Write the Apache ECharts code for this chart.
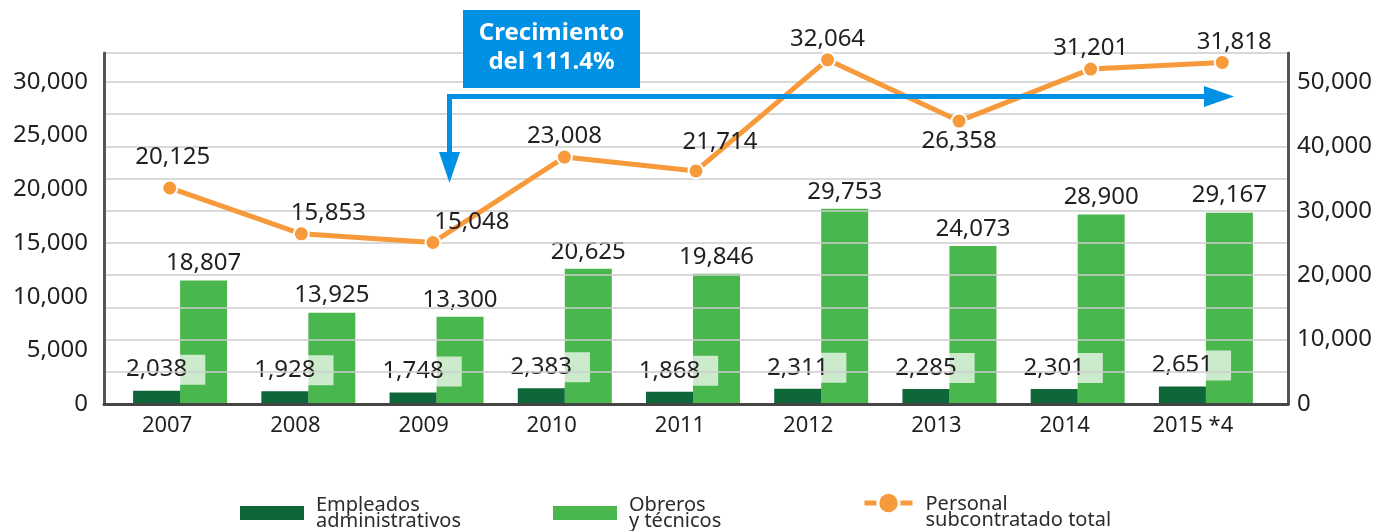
<!DOCTYPE html>
<html><head><meta charset="utf-8">
<script src="https://cdn.jsdelivr.net/npm/echarts@6/dist/echarts.min.js"></script>
<style>html,body{margin:0;padding:0;background:#fff}#c{width:1392px;height:531px}</style>
</head><body><div id="c"></div>
<script>
const categories = ['2007','2008','2009','2010','2011','2012','2013','2014','2015 *4'];
const adminStaff = [2038, 1928, 1748, 2383, 1868, 2311, 2285, 2301, 2651];
const workersTech = [18807, 13925, 13300, 20625, 19846, 29753, 24073, 28900, 29167];
const totalSubcontracted = [20125, 15853, 15048, 23008, 21714, 32064, 26358, 31201, 31818];
const leftTicks = [0, 5000, 10000, 15000, 20000, 25000, 30000];
const rightTicks = [0, 10000, 20000, 30000, 40000, 50000];
const seriesNames = ['Empleados administrativos', 'Obreros y técnicos', 'Personal subcontratado total'];
const annotationText = 'Crecimiento\ndel 111.4%';

const FONT = '"Noto Sans", sans-serif';
const TEXT = '#231f20';
const DARK = '#0e6639';
const LIGHT = '#49b64e';
const ORANGE = '#f79a3b';
const BLUE = '#0091e5';
const fmt = v => Number(v).toLocaleString('en-US');

// per-point label placement tweaks for the line labels
const lineLabelTweaks = {
  0: {offset: [3, -10]},
  1: {offset: [27, 0]},
  2: {offset: [39, 0]},
  4: {offset: [24, -8]},
  6: {position: 'bottom', distance: 0},
  8: {offset: [12, 0]}
};

const legendText = {fontSize: 20, lineHeight: 16, color: '#2b2b2b', fontFamily: FONT};
const legendFmt = n => n.replace(' ', '\n');
const legendFmtShift = n => '{sp| }\n' + n.split(' ').reduce((acc, w, i) => i === 0 ? '{t|' + w + '}\n{t|' : acc + (i > 1 ? ' ' : '') + w, '') + '}';

const chart = echarts.init(document.getElementById('c'), null, {renderer: 'canvas'});
chart.setOption({
  animation: false,
  textStyle: {fontFamily: FONT},
  grid: [
    {left: 104, right: 104, top: 53, bottom: 127, containLabel: false},
    {left: 116, right: 122, top: 53, bottom: 127, containLabel: false}
  ],
  xAxis: [
    {type: 'category', gridIndex: 0, data: categories, boundaryGap: true, z: 5,
     axisLine: {show: true, lineStyle: {color: '#454545', width: 3}},
     axisTick: {show: false}, axisLabel: {show: false}, splitLine: {show: false}},
    {type: 'category', gridIndex: 1, data: categories, boundaryGap: true,
     axisLine: {show: false}, axisTick: {show: false}, splitLine: {show: false},
     axisLabel: {fontSize: 22, color: TEXT, fontFamily: FONT, margin: 11, padding: [0, 26, 0, 0]}}
  ],
  yAxis: [
    {type: 'value', gridIndex: 0, position: 'left', min: 0, max: 32700, interval: 5000, z: 4,
     axisLine: {show: true, lineStyle: {color: '#555', width: 3}},
     axisTick: {show: false}, splitLine: {show: false},
     axisLabel: {showMaxLabel: false, fontSize: 24, color: TEXT, fontFamily: FONT, margin: 16,
       formatter: v => leftTicks.includes(v) ? fmt(v) : ''}},
    {type: 'value', gridIndex: 0, position: 'right', min: 0, max: 54500, interval: 5000, z: 4,
     axisLine: {show: true, lineStyle: {color: '#555', width: 3}},
     axisTick: {show: false},
     splitLine: {show: true, lineStyle: {color: '#cdcdcd', width: 1.5}},
     axisLabel: {showMaxLabel: false, fontSize: 24, color: TEXT, fontFamily: FONT, margin: 9,
       formatter: v => rightTicks.includes(v) ? fmt(v) : ''}},
    {type: 'value', gridIndex: 1, show: false, min: 0, max: 53500}
  ],
  legend: [
    {data: [seriesNames[0]], left: 240, top: 495, padding: 0, icon: 'rect', itemWidth: 64, itemHeight: 14,
     selectedMode: false, formatter: legendFmt, textStyle: Object.assign({padding: [0, 0, 0, 7]}, legendText)},
    {data: [seriesNames[1]], left: 553, top: 495, padding: 0, icon: 'rect', itemWidth: 64, itemHeight: 14,
     selectedMode: false, formatter: legendFmt, textStyle: Object.assign({padding: [0, 0, 0, 7]}, legendText)},
    {data: [seriesNames[2]], left: 862, top: 478, padding: 0, itemWidth: 48, itemHeight: 23,
     selectedMode: false, formatter: legendFmtShift,
     lineStyle: {type: [12, 6], width: 5},
     itemStyle: {borderWidth: 0},
     textStyle: Object.assign({padding: [0, 0, 0, 8],
       rich: {sp: {fontSize: 10, lineHeight: 18, height: 18},
              t: {fontSize: 20, lineHeight: 16, color: '#2b2b2b', fontFamily: FONT}}}, legendText)}
  ],
  series: [
    {type: 'bar', name: seriesNames[0], xAxisIndex: 1, yAxisIndex: 2, data: adminStaff,
     barWidth: 47, barGap: '0%', z: 3,
     itemStyle: {color: DARK},
     label: {show: true, position: 'top', distance: 6, formatter: p => fmt(p.value),
       fontSize: 24, lineHeight: 24, color: TEXT, fontFamily: FONT,
       backgroundColor: 'rgba(255,255,255,0.72)', padding: [3, 18, 3, 18]}},
    {type: 'bar', name: seriesNames[1], xAxisIndex: 1, yAxisIndex: 2, data: workersTech,
     barWidth: 47, barGap: '0%', z: 2,
     itemStyle: {color: LIGHT},
     label: {show: true, position: 'top', distance: 5, formatter: p => fmt(p.value),
       fontSize: 24, lineHeight: 24, color: TEXT, fontFamily: FONT}},
    {type: 'line', name: seriesNames[2], xAxisIndex: 0, yAxisIndex: 0, z: 4,
     data: totalSubcontracted.map((v, i) => lineLabelTweaks[i] ? {value: v, label: lineLabelTweaks[i]} : v),
     symbol: 'circle', symbolSize: 15,
     lineStyle: {color: ORANGE, width: 5},
     itemStyle: {color: ORANGE, borderColor: '#fff', borderWidth: 2},
     label: {show: true, position: 'top', distance: 0, formatter: p => fmt(p.value),
       fontSize: 24, lineHeight: 24, color: TEXT, fontFamily: FONT}}
  ],
  graphic: [
    {type: 'rect', z: 10, shape: {x: 463, y: 10, width: 177, height: 78}, style: {fill: BLUE}},
    {type: 'text', z: 11, x: 551.5, y: 48,
     style: {text: annotationText, fill: '#fff', fontSize: 24, fontWeight: 'bold', fontFamily: FONT,
       align: 'center', verticalAlign: 'middle', lineHeight: 29}},
    {type: 'polyline', z: 10, shape: {points: [[449.5, 158], [449.5, 96.5], [1208, 96.5]]},
     style: {stroke: BLUE, lineWidth: 5, fill: null}},
    {type: 'polygon', z: 10, shape: {points: [[1204, 86], [1234, 96.5], [1204, 107]]}, style: {fill: BLUE}},
    {type: 'polygon', z: 10, shape: {points: [[439, 152], [460, 152], [449.5, 183]]}, style: {fill: BLUE}}
  ]
});
</script></body></html>
